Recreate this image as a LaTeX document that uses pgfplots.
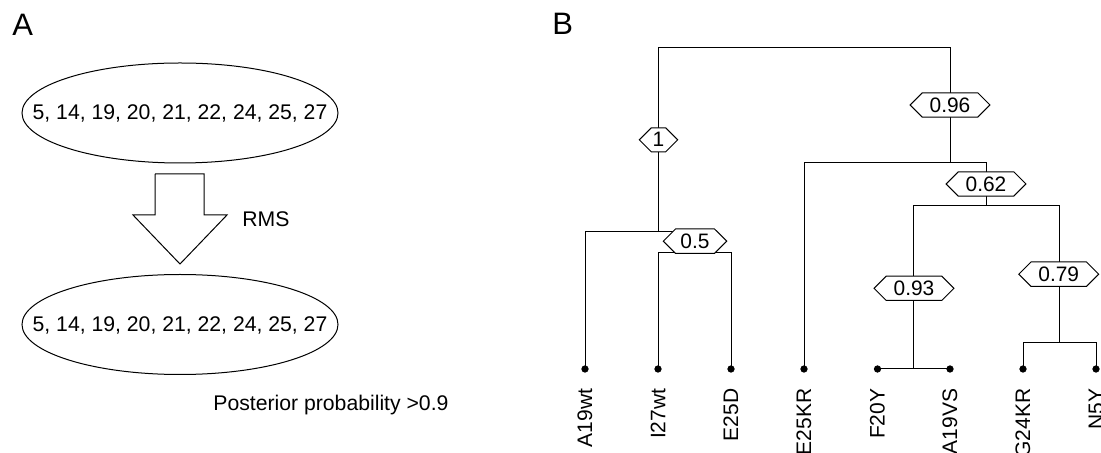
\documentclass[border=0pt]{standalone}
\usepackage{pgfplots}
\pgfplotsset{compat=1.18}
\usepackage{fontspec}
\setmainfont{Liberation Sans}
\usetikzlibrary{shapes.symbols}

\tikzset{
    br/.style={black, line width=0.5pt, mark=none},
    prob/.style={signal, signal to=west and east, draw=black, fill=white,
        line width=0.5pt, inner xsep=3.7pt, inner ysep=2.4pt,
        font=\fontsize{10.45}{12}\selectfont},
    leaf/.style={rotate=90, anchor=east, inner sep=0pt,
        font=\fontsize{10.5}{12}\selectfont},
}

\begin{document}
\begin{tikzpicture}
\useasboundingbox (0,0) rectangle (550.5pt,226.5pt);
\begin{axis}[
    at={(0,0)}, anchor=south west,
    hide axis, scale only axis,
    width=550.5pt, height=226.5pt,
    xmin=0, xmax=1101, ymin=0, ymax=453,
    y dir=reverse,
]
% panel A
\draw[line width=0.5pt] (axis cs:180,113) ellipse [x radius=79pt, y radius=25pt];
\draw[line width=0.5pt] (axis cs:180,324.5) ellipse [x radius=79pt, y radius=25pt];
\addplot[br] coordinates {(155,174) (204,174) (204,215) (227,215) (180,264) (133,215) (155,215) (155,174)};

\node[anchor=base, font=\fontsize{10.6}{12}\selectfont] at (axis cs:180,120) {5, 14, 19, 20, 21, 22, 24, 25, 27};
\node[anchor=base, font=\fontsize{10.6}{12}\selectfont] at (axis cs:180,332) {5, 14, 19, 20, 21, 22, 24, 25, 27};
\node[anchor=base west, inner sep=0pt, font=\fontsize{10.6}{12}\selectfont] at (axis cs:242,227) {RMS};
\node[anchor=base west, inner sep=0pt, font=\fontsize{10.6}{12}\selectfont] at (axis cs:213,410) {Posterior probability >0.9};
\node[anchor=base west, inner sep=0pt, font=\fontsize{15.5}{18}\selectfont] at (axis cs:12,36) {A};
\node[anchor=base west, inner sep=0pt, font=\fontsize{15.5}{18}\selectfont] at (axis cs:552,35) {B};

% panel B: tree
\addplot[br] coordinates {(658,232) (658,48) (950,48) (950,162.5)};
\addplot[br] coordinates {(585,369) (585,232) (694.5,232) (694.5,252.3)};
\addplot[br] coordinates {(658,369) (658,252.3) (731,252.3) (731,369)};
\addplot[br] coordinates {(804,369) (804,162.5) (986,162.5) (986,205.7)};
\addplot[br] coordinates {(913.5,369) (913.5,205.7) (1059,205.7) (1059,342.3)};
\addplot[br] coordinates {(877.5,369) (950,369)};
\addplot[br] coordinates {(1023,369) (1023,342.3) (1096,342.3) (1096,369)};
% leaves
\addplot[black, only marks, mark=*, mark size=1.6pt] coordinates {
    (585,369) (658,369) (731,369) (804,369) (877.5,369) (950,369) (1023,369) (1096,369)};

\node[prob, inner xsep=0.7pt] at (axis cs:658.5,139.8) {1};
\node[prob] at (axis cs:950,105) {0.96};
\node[prob] at (axis cs:986,184) {0.62};
\node[prob, inner xsep=2.5pt] at (axis cs:695,241.2) {0.5};
\node[prob] at (axis cs:914,288.3) {0.93};
\node[prob] at (axis cs:1058.7,274.2) {0.79};

\node[leaf] at (axis cs:585,388.3) {A19wt};
\node[leaf] at (axis cs:658,388.3) {I27wt};
\node[leaf] at (axis cs:731,388.3) {E25D};
\node[leaf] at (axis cs:804,388.3) {E25KR};
\node[leaf] at (axis cs:877.5,388.3) {F20Y};
\node[leaf] at (axis cs:950,388.3) {A19VS};
\node[leaf] at (axis cs:1023,388.3) {G24KR};
\node[leaf] at (axis cs:1096,388.3) {N5Y};
\end{axis}
\end{tikzpicture}
\end{document}
